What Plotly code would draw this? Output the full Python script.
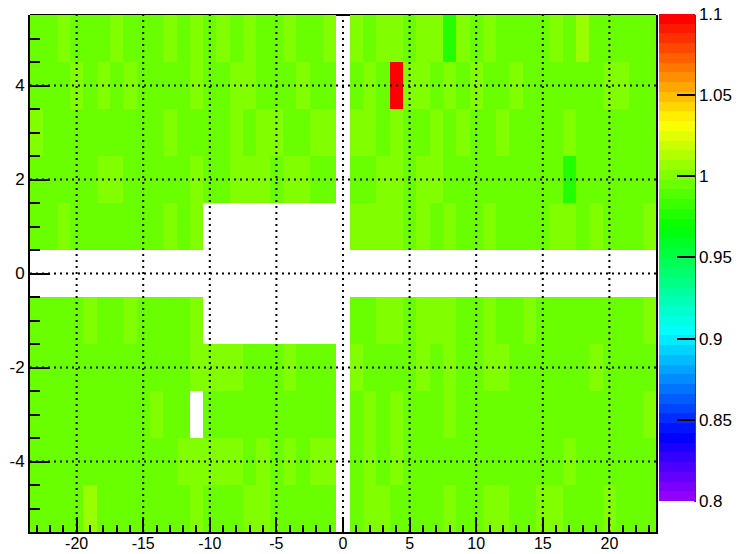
import colorsys
import plotly.graph_objects as go

# bin centres
x_bins = list(range(-23, 24))
y_bins = list(range(-5, 6))

# bin contents per row, x = -23 ... 23 (None = empty bin)
row_m5 = [0.996, 0.995, 0.994, 0.996, 1.006, 0.995, 0.994, 0.996, 0.995, 0.994, 0.996, 0.995, 1.001, 0.994, 0.996, 0.995, 1.000, 1.001, 0.994, 0.996, 0.995, 0.994, 0.996, None,
          0.995, 1.001, 1.000, 0.994, 0.996, 0.995, 0.994, 1.000, 0.996, 0.995, 1.001, 1.000, 0.994, 0.996, 1.001, 1.000, 0.995, 0.994, 0.996, 1.000, 0.995, 0.994, 0.996]
row_m4 = [0.995, 0.994, 0.996, 0.995, 0.994, 0.996, 0.995, 0.994, 0.996, 0.995, 0.994, 1.000, 1.001, 1.000, 1.001, 1.000, 0.995, 1.001, 0.996, 1.000, 0.994, 1.001, 1.000, None,
          0.995, 1.001, 0.996, 1.000, 0.994, 0.995, 0.996, 0.994, 0.995, 0.996, 0.994, 0.995, 0.996, 0.994, 0.995, 0.996, 1.001, 0.994, 0.995, 0.996, 0.994, 0.995, 0.996]
row_m3 = [0.994, 0.995, 0.996, 0.994, 0.995, 0.996, 0.994, 0.995, 0.996, 1.001, 0.995, 0.994, None, 0.996, 0.995, 0.994, 0.996, 0.995, 0.994, 0.996, 0.995, 0.994, 0.996, None,
          0.995, 1.000, 0.994, 1.001, 0.996, 0.995, 0.994, 1.000, 0.996, 0.995, 0.994, 0.996, 0.995, 0.994, 0.996, 0.995, 0.994, 0.996, 0.995, 0.994, 0.996, 0.995, 1.001]
row_m2 = [0.995, 0.996, 0.994, 0.995, 0.996, 0.994, 0.995, 0.996, 0.994, 0.995, 0.996, 0.994, 1.000, 1.001, 1.000, 1.001, 0.995, 0.994, 0.996, 1.000, 0.995, 0.994, 0.996, None,
          1.001, 0.995, 0.994, 0.996, 0.995, 1.000, 0.994, 1.001, 0.996, 0.995, 1.000, 1.001, 0.994, 0.996, 0.995, 0.994, 0.996, 0.995, 1.000, 0.994, 0.996, 0.995, 0.994]
row_m1 = [0.995, 0.994, 0.996, 0.995, 1.001, 0.994, 0.996, 1.000, 0.995, 0.994, 0.996, 0.995, 1.001,
          None, None, None, None, None, None, None, None, None, None, None,
          0.995, 0.996, 1.000, 1.001, 0.994, 1.000, 1.001, 1.000, 0.995, 0.996, 1.001, 0.994, 0.995, 1.000, 0.996, 0.994, 0.995, 0.996, 0.994, 0.995, 0.996, 0.994, 1.001]
row_0 = [None] * 47
row_p1 = [0.996, 0.995, 1.001, 0.994, 0.995, 0.996, 0.994, 0.995, 0.996, 0.994, 1.000, 0.995, 1.001,
          None, None, None, None, None, None, None, None, None, None, None,
          1.000, 1.001, 1.000, 1.002, 0.995, 1.001, 0.994, 1.000, 0.996, 0.995, 1.001, 0.994, 0.996, 0.995, 0.994, 1.000, 1.001, 0.995, 1.000, 0.996, 0.994, 0.995, 1.001]
row_p2 = [0.995, 0.996, 0.994, 0.995, 0.996, 1.001, 1.000, 0.995, 0.994, 0.996, 0.995, 0.994, 1.000, 0.996, 0.995, 1.001, 1.000, 1.001, 0.995, 1.000, 1.001, 0.994, 0.996, None,
          0.995, 0.994, 1.000, 1.001, 0.996, 1.000, 1.001, 0.995, 0.994, 0.996, 0.995, 0.994, 0.996, 0.995, 0.994, 0.996, 0.977, 0.995, 0.994, 0.996, 0.995, 0.994, 0.996]
row_p3 = [1.000, 0.995, 0.994, 0.996, 0.995, 0.994, 0.996, 0.995, 0.994, 0.996, 1.001, 0.995, 0.994, 0.996, 0.995, 1.000, 0.994, 1.001, 1.000, 0.995, 0.996, 1.001, 1.000, None,
          1.001, 1.000, 0.995, 1.001, 0.996, 0.994, 1.000, 0.995, 1.001, 0.996, 0.994, 1.000, 0.995, 0.996, 0.994, 0.995, 1.001, 0.996, 0.995, 0.994, 0.996, 0.995, 0.994]
row_p4 = [0.994, 0.996, 0.995, 1.000, 0.994, 1.001, 0.995, 1.000, 0.996, 0.995, 0.994, 0.996, 1.001, 0.995, 0.994, 1.000, 1.002, 0.995, 0.996, 0.994, 1.000, 0.995, 0.996, None,
          0.995, 1.001, 0.994, 1.098, 1.000, 1.001, 0.995, 1.000, 0.996, 1.001, 0.994, 0.995, 1.000, 0.996, 0.994, 0.995, 0.996, 0.994, 0.995, 1.001, 1.000, 0.995, 0.996]
row_p5 = [0.995, 0.994, 1.001, 0.996, 0.995, 0.994, 1.000, 0.995, 0.996, 0.994, 1.001, 0.995, 1.000, 0.996, 1.002, 0.995, 1.001, 0.994, 0.996, 1.000, 0.995, 0.994, 1.001, None,
          1.000, 0.995, 1.002, 1.001, 0.996, 1.000, 1.001, 0.975, 1.000, 0.995, 1.001, 0.994, 0.996, 0.995, 0.994, 1.000, 0.996, 1.007, 0.995, 0.994, 0.996, 0.995, 0.994]

z_rows = [row_m5, row_m4, row_m3, row_m2, row_m1, row_0, row_p1, row_p2, row_p3, row_p4, row_p5]

z_min, z_max = 0.8, 1.1
x_ticks = [-20, -15, -10, -5, 0, 5, 10, 15, 20]
x_tick_labels = ["-20", "-15", "-10", "-5", "0", "5", "10", "15", "20"]
y_ticks = [-4, -2, 0, 2, 4]
y_tick_labels = ["-4", "-2", "0", "2", "4"]
cbar_ticks = [0.8, 0.85, 0.9, 0.95, 1.0, 1.05, 1.1]
cbar_labels = ["0.8", "0.85", "0.9", "0.95", "1", "1.05", "1.1"]

# 50-step rainbow palette (hue 280 -> 0, last step pure red)
n_col = 50
palette = []
for i in range(n_col - 1):
    hue = 280.0 - (i + 1) * 280.0 / n_col
    r, g, b = colorsys.hls_to_rgb(hue / 360.0, 0.5, 1.0)
    palette.append(f"rgb({round(r * 255)},{round(g * 255)},{round(b * 255)})")
palette.append("rgb(255,0,0)")
colorscale = []
for i, c in enumerate(palette):
    colorscale.append([i / n_col, c])
    colorscale.append([(i + 1) / n_col, c])

W, H = 738, 554
ML, MR, MT, MB = 30, 82, 15, 22
plot_w = W - ML - MR
plot_h = H - MT - MB
cb_left, cb_thick, cb_top, cb_len = 659, 36, 15, 487

font = dict(family="Liberation Sans, Arial, sans-serif", size=17, color="black")
x_font = dict(family="Liberation Sans, Arial, sans-serif", size=16, color="black")

fig = go.Figure(
    go.Heatmap(
        x=x_bins,
        y=y_bins,
        z=z_rows,
        zmin=z_min,
        zmax=z_max,
        colorscale=colorscale,
        hoverongaps=False,
        colorbar=dict(
            xref="container",
            yref="container",
            x=cb_left / W,
            xanchor="left",
            xpad=0,
            y=1 - cb_top / H,
            yanchor="top",
            ypad=0,
            len=cb_len / plot_h,
            lenmode="fraction",
            thickness=cb_thick,
            outlinewidth=0,
            ticks="inside",
            ticklen=18,
            tickwidth=1.5,
            tickcolor="black",
            tickvals=cbar_ticks,
            ticktext=cbar_labels,
            tickfont=font,
        ),
    )
)

# dotted grid drawn over the cells
grid_line = dict(color="black", width=2, dash="2px,4px")
for xv in x_ticks:
    fig.add_shape(type="line", xref="x", yref="paper", x0=xv, x1=xv, y0=0, y1=1,
                  line=grid_line, layer="above")
for yv in y_ticks:
    fig.add_shape(type="line", xref="paper", yref="y", x0=0, x1=1, y0=yv, y1=yv,
                  line=grid_line, layer="above")

# top frame edge (hidden under filled cells)
fig.add_shape(type="line", xref="paper", yref="paper", x0=0, x1=1, y0=1, y1=1,
              line=dict(color="black", width=2), layer="below")

# palette axis line on the right edge of the colour bar
cb_right = (cb_left + cb_thick - ML) / plot_w
fig.add_shape(type="line", xref="paper", yref="paper", x0=cb_right, x1=cb_right,
              y0=1 - cb_len / plot_h, y1=1, line=dict(color="black", width=1.5))

fig.update_layout(
    width=W,
    height=H,
    margin=dict(l=ML, r=MR, t=MT, b=MB, pad=0, autoexpand=False),
    paper_bgcolor="white",
    plot_bgcolor="white",
    font=font,
    showlegend=False,
)
fig.update_xaxes(
    range=[-23.5, 23.5],
    tickvals=x_ticks,
    ticktext=x_tick_labels,
    ticks="inside",
    ticklen=15,
    tickwidth=2,
    tickcolor="black",
    showline=True,
    linecolor="black",
    linewidth=2,
    showgrid=False,
    zeroline=False,
    automargin=False,
    ticklabelstandoff=-4,
    minor=dict(dtick=1, tick0=0, ticks="inside", ticklen=7, tickwidth=2, tickcolor="black", showgrid=False),
    tickfont=x_font,
    layer="above traces",
)
fig.update_yaxes(
    range=[-5.5, 5.5],
    tickvals=y_ticks,
    ticktext=y_tick_labels,
    ticks="inside",
    ticklen=20,
    tickwidth=2,
    tickcolor="black",
    showline=True,
    mirror=True,
    linecolor="black",
    linewidth=2,
    showgrid=False,
    zeroline=False,
    automargin=False,
    minor=dict(dtick=0.5, tick0=0, ticks="inside", ticklen=10, tickwidth=2, tickcolor="black", showgrid=False),
    tickfont=font,
    layer="above traces",
)

fig.write_html("out.html")
